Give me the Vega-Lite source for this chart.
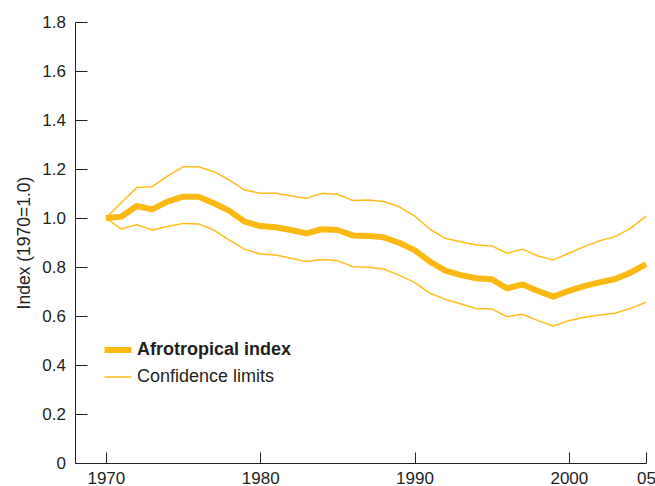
{
  "$schema": "https://vega.github.io/schema/vega-lite/v6.json",
  "width": 571,
  "height": 441,
  "autosize": {"type": "none"},
  "padding": {"left": 75, "top": 22, "right": 9, "bottom": 23},
  "config": {
    "view": {"stroke": null},
    "font": "Liberation Sans",
    "axis": {
      "grid": false,
      "domainColor": "#231f20",
      "domainWidth": 1,
      "tickColor": "#231f20",
      "tickWidth": 1,
      "labelColor": "#231f20",
      "labelFont": "Liberation Sans",
      "labelFontSize": 17,
      "titleFont": "Liberation Sans",
      "titleColor": "#231f20",
      "titleFontWeight": "normal",
      "titleFontSize": 17.5
    }
  },
  "data": {
    "values": [
      {"year": 1970, "series": "Afrotropical index", "band": "index", "value": 1.0},
      {"year": 1971, "series": "Afrotropical index", "band": "index", "value": 1.005},
      {"year": 1972, "series": "Afrotropical index", "band": "index", "value": 1.049},
      {"year": 1973, "series": "Afrotropical index", "band": "index", "value": 1.035},
      {"year": 1974, "series": "Afrotropical index", "band": "index", "value": 1.067},
      {"year": 1975, "series": "Afrotropical index", "band": "index", "value": 1.087},
      {"year": 1976, "series": "Afrotropical index", "band": "index", "value": 1.087},
      {"year": 1977, "series": "Afrotropical index", "band": "index", "value": 1.06},
      {"year": 1978, "series": "Afrotropical index", "band": "index", "value": 1.029},
      {"year": 1979, "series": "Afrotropical index", "band": "index", "value": 0.985},
      {"year": 1980, "series": "Afrotropical index", "band": "index", "value": 0.967},
      {"year": 1981, "series": "Afrotropical index", "band": "index", "value": 0.962},
      {"year": 1982, "series": "Afrotropical index", "band": "index", "value": 0.951},
      {"year": 1983, "series": "Afrotropical index", "band": "index", "value": 0.937},
      {"year": 1984, "series": "Afrotropical index", "band": "index", "value": 0.954},
      {"year": 1985, "series": "Afrotropical index", "band": "index", "value": 0.951},
      {"year": 1986, "series": "Afrotropical index", "band": "index", "value": 0.929},
      {"year": 1987, "series": "Afrotropical index", "band": "index", "value": 0.927},
      {"year": 1988, "series": "Afrotropical index", "band": "index", "value": 0.921},
      {"year": 1989, "series": "Afrotropical index", "band": "index", "value": 0.899},
      {"year": 1990, "series": "Afrotropical index", "band": "index", "value": 0.869},
      {"year": 1991, "series": "Afrotropical index", "band": "index", "value": 0.822},
      {"year": 1992, "series": "Afrotropical index", "band": "index", "value": 0.785},
      {"year": 1993, "series": "Afrotropical index", "band": "index", "value": 0.767},
      {"year": 1994, "series": "Afrotropical index", "band": "index", "value": 0.754},
      {"year": 1995, "series": "Afrotropical index", "band": "index", "value": 0.75},
      {"year": 1996, "series": "Afrotropical index", "band": "index", "value": 0.713},
      {"year": 1997, "series": "Afrotropical index", "band": "index", "value": 0.729},
      {"year": 1998, "series": "Afrotropical index", "band": "index", "value": 0.702},
      {"year": 1999, "series": "Afrotropical index", "band": "index", "value": 0.679},
      {"year": 2000, "series": "Afrotropical index", "band": "index", "value": 0.703},
      {"year": 2001, "series": "Afrotropical index", "band": "index", "value": 0.722},
      {"year": 2002, "series": "Afrotropical index", "band": "index", "value": 0.737},
      {"year": 2003, "series": "Afrotropical index", "band": "index", "value": 0.751},
      {"year": 2004, "series": "Afrotropical index", "band": "index", "value": 0.777},
      {"year": 2005, "series": "Afrotropical index", "band": "index", "value": 0.812},
      {"year": 1970, "series": "Confidence limits", "band": "upper", "value": 1.0},
      {"year": 1971, "series": "Confidence limits", "band": "upper", "value": 1.062},
      {"year": 1972, "series": "Confidence limits", "band": "upper", "value": 1.124},
      {"year": 1973, "series": "Confidence limits", "band": "upper", "value": 1.128},
      {"year": 1974, "series": "Confidence limits", "band": "upper", "value": 1.171},
      {"year": 1975, "series": "Confidence limits", "band": "upper", "value": 1.209},
      {"year": 1976, "series": "Confidence limits", "band": "upper", "value": 1.209},
      {"year": 1977, "series": "Confidence limits", "band": "upper", "value": 1.189},
      {"year": 1978, "series": "Confidence limits", "band": "upper", "value": 1.155},
      {"year": 1979, "series": "Confidence limits", "band": "upper", "value": 1.114},
      {"year": 1980, "series": "Confidence limits", "band": "upper", "value": 1.101},
      {"year": 1981, "series": "Confidence limits", "band": "upper", "value": 1.101},
      {"year": 1982, "series": "Confidence limits", "band": "upper", "value": 1.091},
      {"year": 1983, "series": "Confidence limits", "band": "upper", "value": 1.08},
      {"year": 1984, "series": "Confidence limits", "band": "upper", "value": 1.101},
      {"year": 1985, "series": "Confidence limits", "band": "upper", "value": 1.097},
      {"year": 1986, "series": "Confidence limits", "band": "upper", "value": 1.071},
      {"year": 1987, "series": "Confidence limits", "band": "upper", "value": 1.073},
      {"year": 1988, "series": "Confidence limits", "band": "upper", "value": 1.067},
      {"year": 1989, "series": "Confidence limits", "band": "upper", "value": 1.046},
      {"year": 1990, "series": "Confidence limits", "band": "upper", "value": 1.009},
      {"year": 1991, "series": "Confidence limits", "band": "upper", "value": 0.954},
      {"year": 1992, "series": "Confidence limits", "band": "upper", "value": 0.917},
      {"year": 1993, "series": "Confidence limits", "band": "upper", "value": 0.903},
      {"year": 1994, "series": "Confidence limits", "band": "upper", "value": 0.89},
      {"year": 1995, "series": "Confidence limits", "band": "upper", "value": 0.886},
      {"year": 1996, "series": "Confidence limits", "band": "upper", "value": 0.856},
      {"year": 1997, "series": "Confidence limits", "band": "upper", "value": 0.873},
      {"year": 1998, "series": "Confidence limits", "band": "upper", "value": 0.845},
      {"year": 1999, "series": "Confidence limits", "band": "upper", "value": 0.829},
      {"year": 2000, "series": "Confidence limits", "band": "upper", "value": 0.856},
      {"year": 2001, "series": "Confidence limits", "band": "upper", "value": 0.883},
      {"year": 2002, "series": "Confidence limits", "band": "upper", "value": 0.907},
      {"year": 2003, "series": "Confidence limits", "band": "upper", "value": 0.924},
      {"year": 2004, "series": "Confidence limits", "band": "upper", "value": 0.958},
      {"year": 2005, "series": "Confidence limits", "band": "upper", "value": 1.008},
      {"year": 1970, "series": "Confidence limits", "band": "lower", "value": 1.0},
      {"year": 1971, "series": "Confidence limits", "band": "lower", "value": 0.955},
      {"year": 1972, "series": "Confidence limits", "band": "lower", "value": 0.973},
      {"year": 1973, "series": "Confidence limits", "band": "lower", "value": 0.951},
      {"year": 1974, "series": "Confidence limits", "band": "lower", "value": 0.965},
      {"year": 1975, "series": "Confidence limits", "band": "lower", "value": 0.978},
      {"year": 1976, "series": "Confidence limits", "band": "lower", "value": 0.976},
      {"year": 1977, "series": "Confidence limits", "band": "lower", "value": 0.951},
      {"year": 1978, "series": "Confidence limits", "band": "lower", "value": 0.91},
      {"year": 1979, "series": "Confidence limits", "band": "lower", "value": 0.872},
      {"year": 1980, "series": "Confidence limits", "band": "lower", "value": 0.853},
      {"year": 1981, "series": "Confidence limits", "band": "lower", "value": 0.849},
      {"year": 1982, "series": "Confidence limits", "band": "lower", "value": 0.836},
      {"year": 1983, "series": "Confidence limits", "band": "lower", "value": 0.822},
      {"year": 1984, "series": "Confidence limits", "band": "lower", "value": 0.831},
      {"year": 1985, "series": "Confidence limits", "band": "lower", "value": 0.826},
      {"year": 1986, "series": "Confidence limits", "band": "lower", "value": 0.801},
      {"year": 1987, "series": "Confidence limits", "band": "lower", "value": 0.799},
      {"year": 1988, "series": "Confidence limits", "band": "lower", "value": 0.792},
      {"year": 1989, "series": "Confidence limits", "band": "lower", "value": 0.767},
      {"year": 1990, "series": "Confidence limits", "band": "lower", "value": 0.737},
      {"year": 1991, "series": "Confidence limits", "band": "lower", "value": 0.693},
      {"year": 1992, "series": "Confidence limits", "band": "lower", "value": 0.668},
      {"year": 1993, "series": "Confidence limits", "band": "lower", "value": 0.649},
      {"year": 1994, "series": "Confidence limits", "band": "lower", "value": 0.631},
      {"year": 1995, "series": "Confidence limits", "band": "lower", "value": 0.629},
      {"year": 1996, "series": "Confidence limits", "band": "lower", "value": 0.597},
      {"year": 1997, "series": "Confidence limits", "band": "lower", "value": 0.607},
      {"year": 1998, "series": "Confidence limits", "band": "lower", "value": 0.581},
      {"year": 1999, "series": "Confidence limits", "band": "lower", "value": 0.559},
      {"year": 2000, "series": "Confidence limits", "band": "lower", "value": 0.581},
      {"year": 2001, "series": "Confidence limits", "band": "lower", "value": 0.595},
      {"year": 2002, "series": "Confidence limits", "band": "lower", "value": 0.604},
      {"year": 2003, "series": "Confidence limits", "band": "lower", "value": 0.611},
      {"year": 2004, "series": "Confidence limits", "band": "lower", "value": 0.631},
      {"year": 2005, "series": "Confidence limits", "band": "lower", "value": 0.656}
    ]
  },
  "layer": [
    {
      "data": {"values": [{"ref": 1.0}]},
      "mark": {"type": "rule", "color": "#231f20", "strokeWidth": 1},
      "encoding": {
        "y": {"field": "ref", "type": "quantitative", "scale": {"domain": [0, 1.8]}}
      }
    },
    {
      "transform": [{"filter": "datum.band !== 'index'"}],
      "mark": {"type": "line", "strokeWidth": 1.5, "strokeJoin": "round"},
      "encoding": {
        "x": {"field": "year", "type": "quantitative"},
        "y": {"field": "value", "type": "quantitative"},
        "color": {"field": "series", "type": "nominal"},
        "detail": {"field": "band"}
      }
    },
    {
      "transform": [{"filter": "datum.band === 'index'"}],
      "mark": {"type": "line", "strokeWidth": 6, "strokeJoin": "round"},
      "encoding": {
        "x": {"field": "year", "type": "quantitative"},
        "y": {"field": "value", "type": "quantitative"},
        "color": {"field": "series", "type": "nominal"}
      }
    }
  ],
  "encoding": {
    "x": {
      "field": "year",
      "type": "quantitative",
      "title": null,
      "scale": {"domain": [1968, 2005], "nice": false, "zero": false},
      "axis": {
        "values": [1970, 1980, 1990, 2000, 2005],
        "labelExpr": "datum.value == 2005 ? '05' : '' + datum.value",
        "labelFlush": false,
        "tickSize": -11,
        "labelPadding": 18
      }
    },
    "y": {
      "field": "value",
      "type": "quantitative",
      "title": "Index (1970=1.0)",
      "scale": {"domain": [0, 1.8], "nice": false},
      "axis": {
        "values": [0, 0.2, 0.4, 0.6, 0.8, 1.0, 1.2, 1.4, 1.6, 1.8],
        "labelExpr": "datum.value == 0 ? '0' : format(datum.value, '.1f')",
        "tickSize": -12,
        "labelPadding": 21.5,
        "titlePadding": 8
      }
    },
    "color": {
      "field": "series",
      "type": "nominal",
      "scale": {
        "domain": ["Afrotropical index", "Confidence limits"],
        "range": ["#FDB913", "#FDBD1C"]
      },
      "legend": {
        "title": null,
        "orient": "none",
        "legendX": 34,
        "legendY": 319,
        "symbolType": "stroke",
        "symbolSize": 729,
        "symbolStrokeWidth": 3,
        "labelFont": "Liberation Sans",
        "labelFontSize": 18,
        "labelColor": "#231f20",
        "labelOffset": 10,
        "rowPadding": 6,
        "encode": {
          "symbols": {"update": {"strokeWidth": {"signal": "datum.value === 'Afrotropical index' ? 6 : 1.5"}}},
          "labels": {"update": {"fontWeight": {"signal": "datum.value === 'Afrotropical index' ? 'bold' : 'normal'"}}}
        }
      }
    }
  }
}
